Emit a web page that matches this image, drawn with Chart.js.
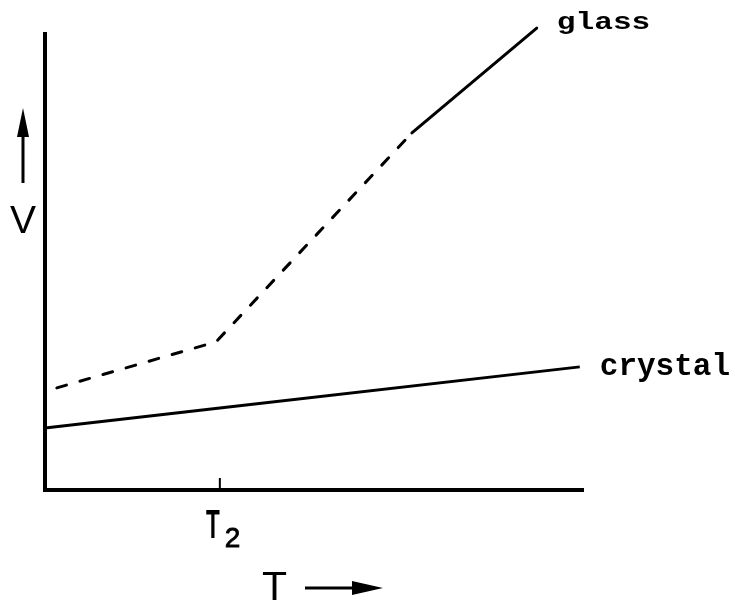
<!DOCTYPE html>
<html>
<head>
<meta charset="utf-8">
<script src="https://cdn.jsdelivr.net/npm/chart.js@4.4.1/dist/chart.umd.min.js"></script>
<style>
  html, body { margin: 0; padding: 0; background: #fff; }
  #wrap { width: 735px; height: 600px; }
</style>
</head>
<body>
<div id="wrap"><canvas id="chart" width="735" height="600"></canvas></div>
<script>
// glass: dashed up to the second bend, solid after
const glassT = [0.22, 3.18, 6.82, 9.14];
const glassV = [2.24, 3.25, 7.83, 10.13];
const crystalT = [0, 3.25, 9.94];
const crystalV = [1.36, 1.80, 2.70];
const xTicks = [3.25];
const xTickLabels = ['T2'];
const seriesNames = ['glass', 'crystal'];
const axisNames = ['T', 'V'];

function toPoints(xs, ys) {
  return xs.map((x, i) => ({ x: x, y: ys[i] }));
}

function arrowUp(ctx, x, yFrom, yTip) {
  ctx.lineWidth = 3;
  ctx.beginPath();
  ctx.moveTo(x, yFrom);
  ctx.lineTo(x, yTip + 20);
  ctx.stroke();
  ctx.beginPath();
  ctx.moveTo(x, yTip);
  ctx.lineTo(x - 6, yTip + 29);
  ctx.lineTo(x + 6, yTip + 29);
  ctx.closePath();
  ctx.fill();
}

function arrowRight(ctx, xFrom, xTip, y) {
  ctx.lineWidth = 3;
  ctx.beginPath();
  ctx.moveTo(xFrom, y);
  ctx.lineTo(xTip - 20, y);
  ctx.stroke();
  ctx.beginPath();
  ctx.moveTo(xTip, y);
  ctx.lineTo(xTip - 31, y - 7);
  ctx.lineTo(xTip - 31, y + 7);
  ctx.closePath();
  ctx.fill();
}

const labelsPlugin = {
  id: 'labels',
  afterDraw(chart) {
    const ctx = chart.ctx;
    const area = chart.chartArea;
    const xs = chart.scales.x;
    ctx.save();
    ctx.fillStyle = '#000';
    ctx.strokeStyle = '#000';
    ctx.textBaseline = 'alphabetic';

    // T2 tick, pointing up into the plot
    xTicks.forEach((v, i) => {
      const px = xs.getPixelForValue(v);
      ctx.lineWidth = 2;
      ctx.beginPath();
      ctx.moveTo(px, area.bottom);
      ctx.lineTo(px, area.bottom - 12);
      ctx.stroke();

      const lbl = xTickLabels[i];
      ctx.save();
      ctx.translate(px - 7, area.bottom + 48);
      ctx.scale(0.55, 1);
      ctx.font = 'bold 41px "Liberation Sans"';
      ctx.textAlign = 'center';
      ctx.fillText(lbl[0], 0, 0);
      ctx.restore();
      ctx.font = '28px "Liberation Sans"';
      ctx.textAlign = 'left';
      ctx.lineWidth = 0.8;
      ctx.fillText(lbl.slice(1), px + 5, area.bottom + 57);
      ctx.strokeText(lbl.slice(1), px + 5, area.bottom + 57);
    });

    // series names at the line ends
    chart.data.datasets.forEach((ds, i) => {
      const pts = chart.getDatasetMeta(i).data;
      const last = pts[pts.length - 1];
      ctx.save();
      ctx.textAlign = 'left';
      if (i === 0) {
        ctx.translate(last.x + 20, last.y + 1);
        ctx.scale(1.3, 1);
        ctx.font = 'bold 24px "Liberation Mono"';
      } else {
        ctx.translate(last.x + 20, last.y + 8);
        ctx.font = 'bold 31px "Liberation Mono"';
      }
      ctx.fillText(seriesNames[i], 0, 0);
      ctx.restore();
    });

    // axis names with arrows
    ctx.font = '39px "Liberation Sans"';
    ctx.textAlign = 'center';
    ctx.fillText(axisNames[1], area.left - 22, area.top + 199);
    arrowUp(ctx, area.left - 22, area.top + 149, area.top + 74);

    ctx.font = '41px "Liberation Sans"';
    ctx.textAlign = 'left';
    ctx.fillText(axisNames[0], area.left + 217, area.bottom + 110);
    arrowRight(ctx, area.left + 260, area.left + 338, area.bottom + 98);

    ctx.restore();
  }
};

const ctx = document.getElementById('chart').getContext('2d');
new Chart(ctx, {
  type: 'scatter',
  data: {
    datasets: [
      {
        label: seriesNames[0],
        data: toPoints(glassT, glassV),
        showLine: true,
        borderColor: '#000',
        borderWidth: 3,
        borderCapStyle: 'round',
        pointRadius: 0,
        clip: false,
        segment: {
          borderDash: c => (c.p0DataIndex < 2 ? [10, 14] : undefined)
        }
      },
      {
        label: seriesNames[1],
        data: toPoints(crystalT, crystalV),
        showLine: true,
        borderColor: '#000',
        borderWidth: 3,
        pointRadius: 0,
        clip: false
      }
    ]
  },
  options: {
    responsive: false,
    animation: false,
    devicePixelRatio: 1,
    layout: { padding: { left: 45, right: 152, top: 34, bottom: 110 } },
    plugins: {
      legend: { display: false },
      tooltip: { enabled: false }
    },
    scales: {
      x: {
        type: 'linear',
        min: 0,
        max: 10,
        grid: { display: false, drawTicks: false },
        border: { display: true, color: '#000', width: 4 },
        ticks: { display: false }
      },
      y: {
        type: 'linear',
        min: 0,
        max: 10,
        grid: { display: false, drawTicks: false },
        border: { display: true, color: '#000', width: 4 },
        ticks: { display: false }
      }
    }
  },
  plugins: [labelsPlugin]
});
</script>
</body>
</html>
